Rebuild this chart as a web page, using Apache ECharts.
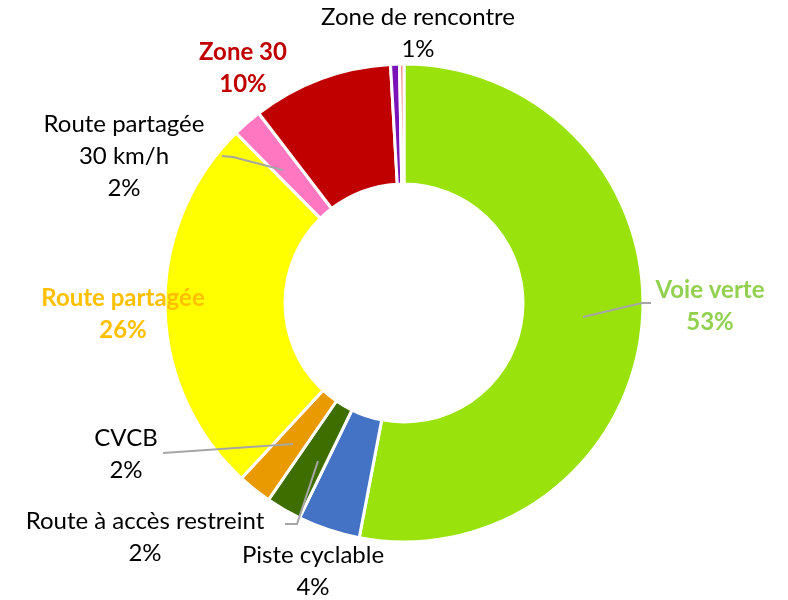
<!DOCTYPE html>
<html>
<head>
<meta charset="utf-8">
<script src="https://cdn.jsdelivr.net/npm/echarts@6/dist/echarts.min.js"></script>
<style>
  html, body { margin: 0; padding: 0; background: #fff; }
  #chart { width: 788px; height: 600px; }
</style>
</head>
<body>
<div id="chart"></div>
<script>
// data
var categories = ['Voie verte', 'Piste cyclable', 'Route à accès restreint', 'CVCB', 'Route partagée',
    'Route partagée\n30 km/h', 'Zone 30', 'Zone de rencontre', 'Autre'];
var shares = [53.0, 4.2, 2.4, 2.3, 25.7, 2.0, 9.5, 0.6, 0.3];
var colors = ['#9AE20C', '#4472C4', '#3F6E00', '#E89A00', '#FFFF00', '#FF77C0', '#C00000', '#7A14B8', '#FF8A8A'];

// label placement (center of text block) and leader lines
var labelPos = [[710, 306], [313, 571], [145, 537], [126, 454], [123, 314], [124, 156], [243, 68], [418, 33], null];
var leaders = [
    [[583, 317], [642, 303], [651, 303]],
    null,
    [[318, 461], [297, 524], [285, 524]],
    [[293, 444], [163, 453]],
    null,
    [[283, 170], [233, 157], [222, 156]],
    null, null, null
];
var labelStyle = [
    {color: '#92D050', fontWeight: 'bold'},
    {}, {}, {},
    {color: '#FFC000', fontWeight: 'bold'},
    {},
    {color: '#C00000', fontWeight: 'bold'},
    {}, {}
];

var myChart = echarts.init(document.getElementById('chart'));

// slices (no labels)
var sliceData = categories.map(function (name, i) {
    return {name: name, value: shares[i], itemStyle: {color: colors[i]}};
});

// transparent copy on top, carrying labels and leader lines
var labelData = categories.map(function (name, i) {
    return {
        name: name,
        value: shares[i],
        label: Object.assign({show: labelPos[i] !== null}, labelStyle[i]),
        labelLine: {show: leaders[i] !== null}
    };
});

var option = {
    animation: false,
    series: [{
        type: 'pie',
        z: 2,
        center: [404, 303],
        radius: [119, 239],
        startAngle: 90,
        silent: true,
        itemStyle: {borderColor: '#fff', borderWidth: 3},
        label: {show: false},
        labelLine: {show: false},
        data: sliceData
    }, {
        type: 'pie',
        z: 3,
        center: [404, 303],
        radius: [119, 239],
        startAngle: 90,
        silent: true,
        avoidLabelOverlap: false,
        itemStyle: {color: 'rgba(0,0,0,0)', borderWidth: 0},
        label: {
            position: 'outside',
            fontFamily: 'Lato',
            fontSize: 24,
            lineHeight: 32,
            color: '#000',
            align: 'center',
            formatter: function (p) {
                return p.name + '\n' + Math.round(p.percent) + '%';
            }
        },
        labelLine: {
            lineStyle: {color: '#A6A6A6', width: 2}
        },
        labelLayout: function (params) {
            var i = params.dataIndex;
            var pos = labelPos[i];
            if (!pos) return {};
            var out = {x: pos[0], y: pos[1], align: 'center', verticalAlign: 'middle'};
            if (leaders[i]) out.labelLinePoints = leaders[i];
            return out;
        },
        data: labelData
    }]
};
myChart.setOption(option);
</script>
</body>
</html>
